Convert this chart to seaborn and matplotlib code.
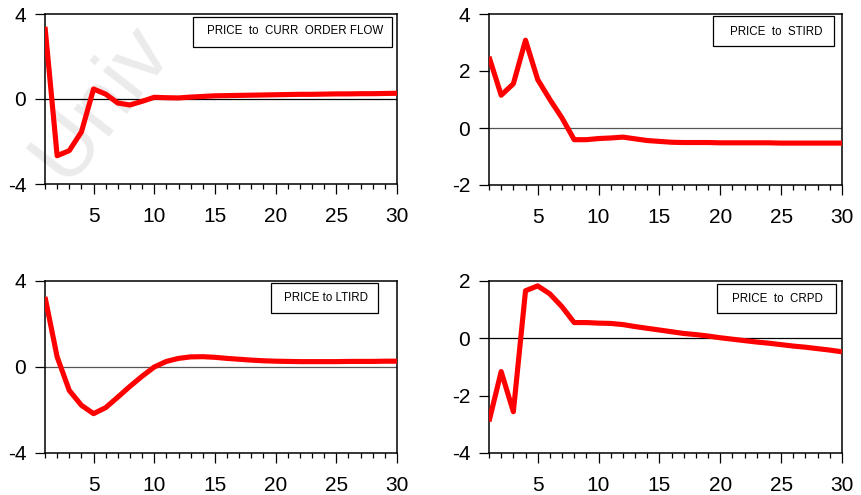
import numpy as np
import pandas as pd
import matplotlib
matplotlib.use("Agg")
import matplotlib.pyplot as plt
from matplotlib.patches import Rectangle
from matplotlib.ticker import MultipleLocator, FixedLocator
import seaborn as sns

# Impulse responses of PRICE, periods 1..30
periods = list(range(1, 31))

curr_order_flow = [3.40, -2.67, -2.43, -1.55, 0.47, 0.23, -0.19, -0.28, -0.11, 0.08,
                   0.06, 0.05, 0.09, 0.12, 0.15, 0.16, 0.17, 0.18, 0.19, 0.20,
                   0.21, 0.22, 0.22, 0.23, 0.24, 0.24, 0.25, 0.25, 0.26, 0.27]

stird = [2.50, 1.15, 1.55, 3.08, 1.70, 1.00, 0.35, -0.41, -0.41, -0.37,
         -0.35, -0.32, -0.38, -0.44, -0.47, -0.50, -0.51, -0.51, -0.51, -0.52,
         -0.52, -0.52, -0.52, -0.52, -0.53, -0.53, -0.53, -0.53, -0.53, -0.53]

ltird = [3.26, 0.47, -1.09, -1.78, -2.17, -1.89, -1.40, -0.90, -0.43, 0.00,
         0.26, 0.40, 0.47, 0.48, 0.45, 0.40, 0.36, 0.32, 0.29, 0.27,
         0.26, 0.25, 0.25, 0.25, 0.25, 0.26, 0.26, 0.26, 0.27, 0.27]

crpd = [-2.90, -1.16, -2.56, 1.66, 1.83, 1.55, 1.10, 0.55, 0.55, 0.53,
        0.52, 0.48, 0.41, 0.35, 0.29, 0.23, 0.17, 0.13, 0.08, 0.02,
        -0.03, -0.08, -0.13, -0.17, -0.22, -0.27, -0.31, -0.36, -0.41, -0.47]

titles = ["PRICE  to  CURR  ORDER FLOW", "PRICE  to  STIRD",
          "PRICE to LTIRD", "PRICE  to  CRPD"]
y_ticks = [[-4, 0, 4], [-2, 0, 2, 4], [-4, 0, 4], [-4, -2, 0, 2]]

sns.set_style("ticks")
plt.rcParams["font.family"] = ["Liberation Sans", "DejaVu Sans"]

W, H = 862, 495
fig = plt.figure(figsize=(W / 100, H / 100), dpi=100)
fig.patch.set_facecolor("white")

# faint diagonal watermark behind the panels
fig.text(66 / W, 1 - 184 / H, "Univ", fontsize=62, color="#ebebeb",
         rotation=52, rotation_mode="anchor", ha="left", va="baseline",
         zorder=-5, family=["Liberation Sans", "DejaVu Sans"])

def px_rect(x0, x1, y0, y1):
    return [x0 / W, 1 - y1 / H, (x1 - x0) / W, (y1 - y0) / H]

rects = [px_rect(45, 397, 14, 184), px_rect(489, 842, 14, 185),
         px_rect(45, 397, 281, 453), px_rect(489, 842, 281, 453)]

# legend boxes (axes fractions) and label centres
boxes = [(0.420, 0.806, 0.986, 0.982), (0.635, 0.813, 0.977, 0.988),
         (0.642, 0.814, 0.946, 0.988), (0.646, 0.814, 0.983, 0.983)]
label_pos = [(0.710, 0.900), (0.813, 0.895), (0.797, 0.901), (0.817, 0.895)]
zero_colors = ["black", "#555555", "#555555", "black"]

series = [curr_order_flow, stird, ltird, crpd]

for i, (vals, rect) in enumerate(zip(series, rects)):
    ax = fig.add_axes(rect)
    ax.set_facecolor("none")
    df = pd.DataFrame({"period": periods, "response": vals})
    ax.axhline(0, color=zero_colors[i], lw=0.9, zorder=1)
    sns.lineplot(data=df, x="period", y="response", ax=ax, color="#ff0000",
                 linewidth=3.7, zorder=3)
    for ln in ax.get_lines()[1:]:
        ln.set_solid_joinstyle("round")
        ln.set_solid_capstyle("butt")
    ax.set_xlim(1, 30)
    yt = y_ticks[i]
    ax.set_ylim(yt[0], yt[-1])
    ax.set_yticks(yt)
    ax.set_yticklabels([str(v) for v in yt])
    ax.xaxis.set_major_locator(FixedLocator([5, 10, 15, 20, 25, 30]))
    ax.xaxis.set_minor_locator(MultipleLocator(1))
    ax.set_xlabel("")
    ax.set_ylabel("")
    for s in ax.spines.values():
        s.set_visible(True)
        s.set_linewidth(1.1)
        s.set_color("black")
    ax.tick_params(axis="both", which="major", direction="out", length=7,
                   width=0.9, labelsize=15, color="black", labelcolor="black")
    ax.tick_params(axis="x", which="major", pad=9.5)
    ax.tick_params(axis="y", which="major", pad=6.5)
    ax.tick_params(axis="x", which="minor", direction="out", length=3.6,
                   width=0.9, color="black")
    x0, y0, x1, y1 = boxes[i]
    ax.add_patch(Rectangle((x0, y0), x1 - x0, y1 - y0, transform=ax.transAxes,
                           facecolor="white", edgecolor="black", lw=0.9,
                           zorder=5))
    lx, ly = label_pos[i]
    ax.text(lx, ly, titles[i], transform=ax.transAxes, ha="center",
            va="center", fontsize=8.3, color="black", zorder=6)

fig.savefig("out.png", dpi=100)
